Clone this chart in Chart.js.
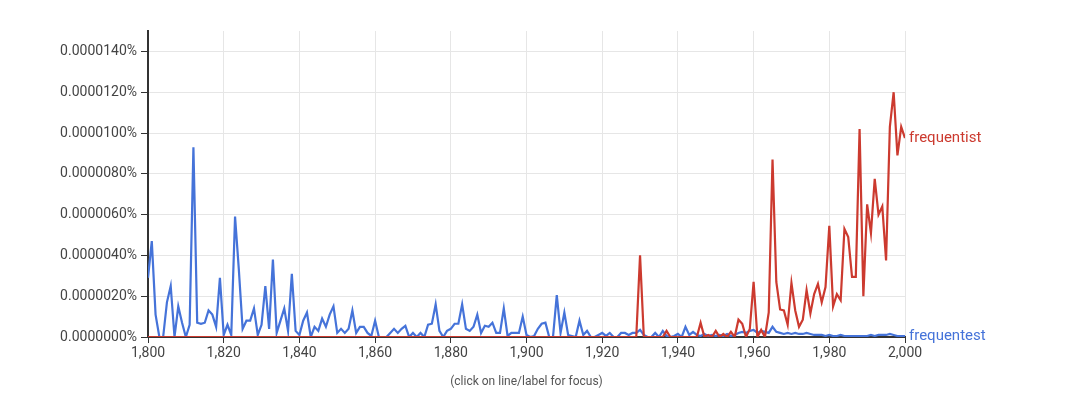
<!DOCTYPE html>
<html>
<head>
<meta charset="utf-8">
<script src="https://cdn.jsdelivr.net/npm/chart.js@4/dist/chart.umd.min.js"></script>
<style>
  html,body{margin:0;padding:0;background:#fff;}
  #wrap{width:1080px;height:419px;position:relative;}
</style>
</head>
<body>
<div id="wrap"><canvas id="c" width="1080" height="419"></canvas></div>
<script>
// values in units of 0.0000001 %
const UNIT = 1e-7;
const START = 1800;
const xTicks = [1800,1820,1840,1860,1880,1900,1920,1940,1960,1980,2000];
const yTicks = [0,20,40,60,80,100,120,140];

const frequentest = [
  29,47,11,0,0,17,25,0,15,7,
  0,6,93,7,6.5,7,13,11,5,29,
  1,6,1,59,33,4,8,8,14,1,
  6,25,4,38,2,8,14,3,31,3,
  1,8,12,0,5,3,9,5,11,15,
  2,4,2,4,13,2,5,5,2,0.5,
  8,0,0,0,2,4,2,4,5.5,0,
  2,0,2,0,6,6.5,16,3,0,3,
  4,6.5,6.5,16,4,3,5,11,2,5.5,
  5,7,2,2,14,0.5,2,2,2,10,
  1,0,0.5,4,6.5,7,0,0,20.5,2,
  12,1,0.5,0,8,1,3,0,0,1,
  2,0.5,2,0,0,2,2,1,2,2,
  3.5,1,0,0,2,0,3,0.5,0,0.5,
  1.5,0,5,1,2.5,1,0.5,1.5,0.5,1,
  0.5,1,0.5,1.5,0.5,1,2,2.5,2,3,
  3.5,2,3,2.5,2,5,2.5,2,1.5,2,
  1.5,2,1.5,1.5,2,1.5,1,1,1,0.5,
  1,0.5,0.5,1,0.5,0.5,0.5,0.5,0.5,0.5,
  0.5,1,0.5,1,1,1,1.5,1,0.5,0.5,
  0.5
];

const frequentist = [
  0,0,0,0,0,0,0,0,0,0, 0,0,0,0,0,0,0,0,0,0,
  0,0,0,0,0,0,0,0,0,0, 0,0,0,0,0,0,0,0,0,0,
  0,0,0,0,0,0,0,0,0,0, 0,0,0,0,0,0,0,0,0,0,
  0,0,0,0,0,0,0,0,0,0, 0,0,0,0,0,0,0,0,0,0,
  0,0,0,0,0,0,0,0,0,0, 0,0,0,0,0,0,0,0,0,0,
  0,0,0,0,0,0,0,0,0,0, 0,0,0,0,0,0,0,0,0,0,
  0,0,0,0,0,0,0,0,0,0,
  40,0,0,0,0,0,0,3,0,0,
  0,0,0,0,0,0,7,0,1,0,
  3,0,1.5,0,2.5,0,8.5,6.5,0,4,
  27,0,3.5,0,12,87,27,13.5,13,6,
  26.5,13,5,8.5,23,11.5,21,26,17,24.5,
  54.5,15,21,18,53,49,29.5,29.5,102,20,
  65,51,77.5,60,64,37.5,103,120,89,103,
  97.5
];

const RED = '#cc3a2f', BLUE = '#4573d9';
const pts = arr => arr.map((v,i) => ({x: START + i, y: v}));

const endLabels = {
  id:'endLabels',
  afterDatasetsDraw(chart){
    const ctx = chart.ctx;
    ctx.save();
    ctx.font = '15px Roboto';
    ctx.textBaseline = 'middle';
    chart.data.datasets.forEach((ds,i) => {
      const meta = chart.getDatasetMeta(i);
      const last = meta.data[meta.data.length-1];
      ctx.fillStyle = ds.borderColor;
      ctx.fillText(ds.label, last.x + 4, last.y);
    });
    ctx.font = '12px Roboto';
    ctx.fillStyle = '#555';
    ctx.textAlign = 'center';
    const a = chart.chartArea;
    ctx.fillText('(click on line/label for focus)', (a.left + a.right)/2, 382);
    ctx.restore();
  }
};

new Chart(document.getElementById('c'), {
  type:'line',
  data:{datasets:[
    {label:'frequentist', data:pts(frequentist), borderColor:RED, borderWidth:2.2, pointRadius:0, tension:0},
    {label:'frequentest', data:pts(frequentest), borderColor:BLUE, borderWidth:2.2, pointRadius:0, tension:0}
  ]},
  options:{
    responsive:false, animation:false,
    layout:{padding:{left:0, right:175, top:31, bottom:0}},
    plugins:{legend:{display:false}, tooltip:{enabled:false}},
    scales:{
      x:{
        type:'linear', min:1800, max:2000,
        afterBuildTicks: s => { s.ticks = xTicks.map(v => ({value:v})); },
        afterFit: s => { s.height = 82; },
        grid:{color:'#e6e6e6', tickColor:'#333', tickLength:6},
        border:{color:'#333', width:2},
        ticks:{color:'#444', font:{family:'Roboto', size:14}, maxRotation:0, padding:2}
      },
      y:{
        min:0, max:150,
        afterBuildTicks: s => { s.ticks = yTicks.map(v => ({value:v})); },
        afterFit: s => { s.width = 148; },
        grid:{color:'#e6e6e6', tickColor:'#333', tickLength:7},
        border:{color:'#333', width:2},
        ticks:{color:'#444', font:{family:'Roboto', size:14}, padding:4,
          callback: v => (v*UNIT).toFixed(7) + '%'}
      }
    }
  },
  plugins:[endLabels]
});
</script>
</body>
</html>
